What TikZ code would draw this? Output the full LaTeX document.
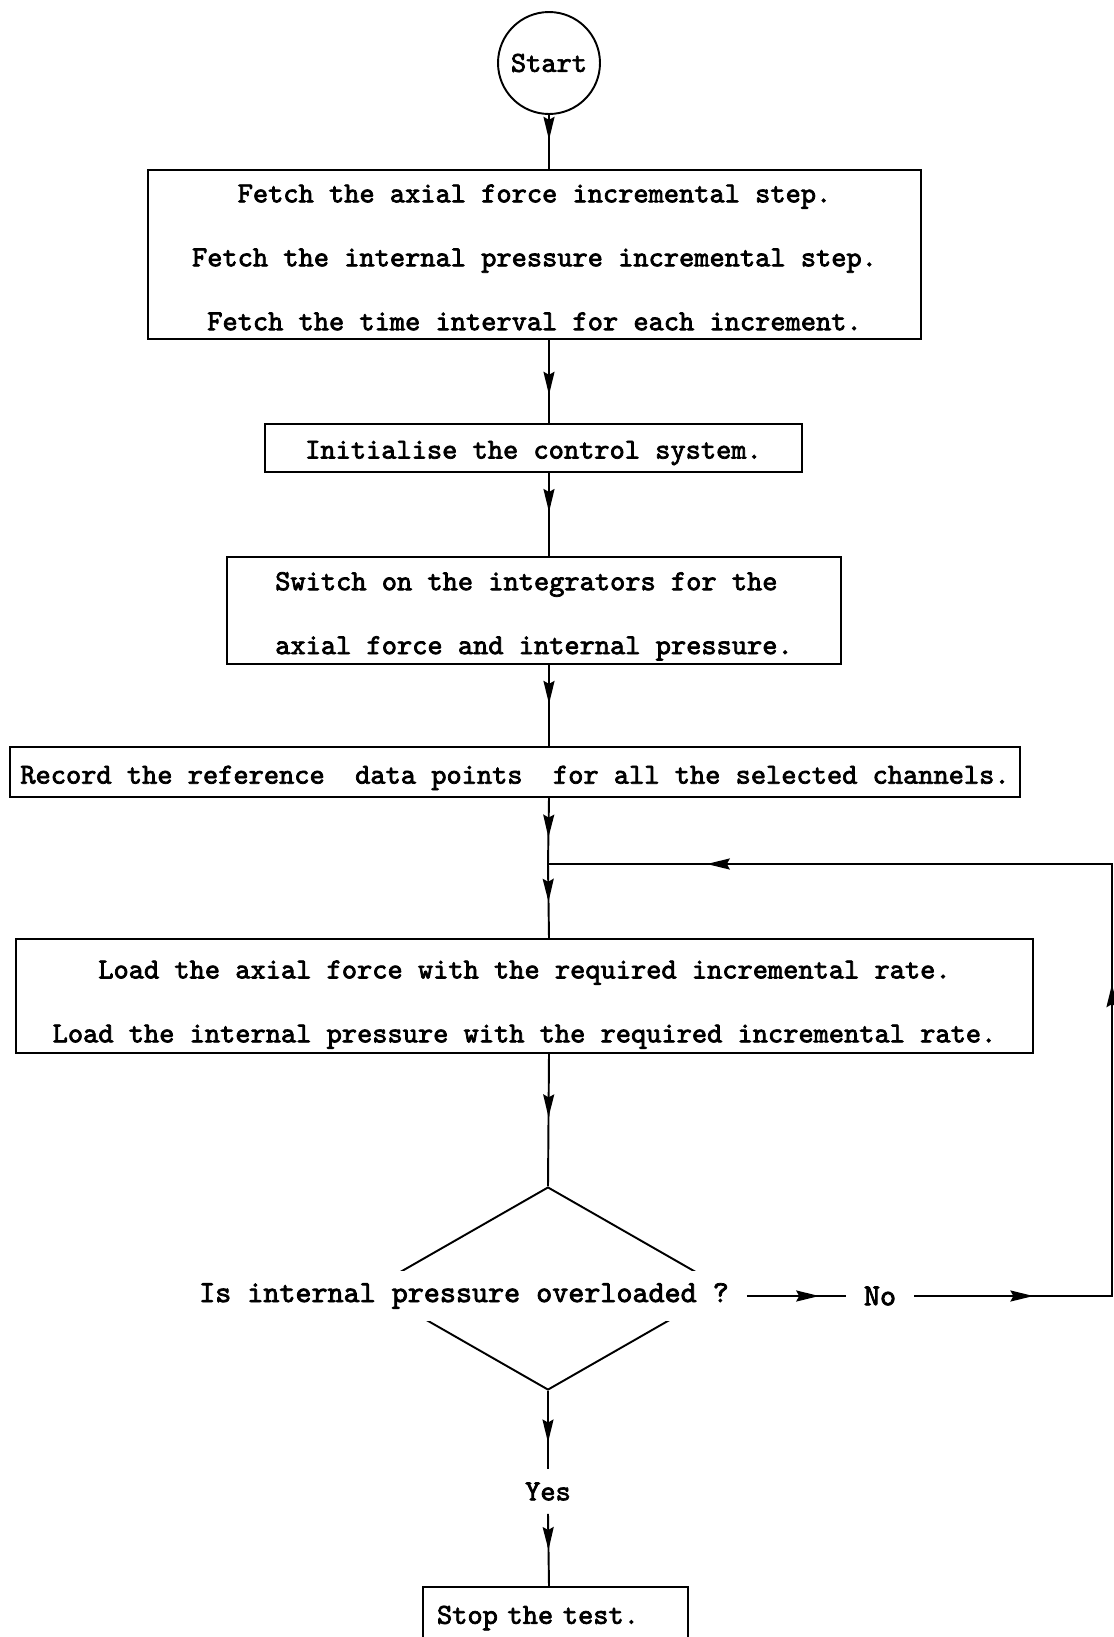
\documentclass[tikz,border=0pt]{standalone}
\usepackage{fontspec}
\usetikzlibrary{arrows.meta,decorations.markings,shapes.geometric}
\newfontfamily\flowfont{lmmono10-regular.otf}[FakeBold=2.5]
% first-line strut, pushes the text a little lower in its box
\newcommand\lowtext[1]{\rule{0pt}{#1}}

\begin{document}
\begin{tikzpicture}[
    x=0.02cm, y=-0.02cm, line width=1.1pt,
    >={Stealth[length=0.46cm, width=0.22cm, inset=0.06cm]},
    flow/.style={postaction={decorate, decoration={markings,
      mark=at position #1 with {\arrow{>}}}}},
    flow/.default=0.5,
    box/.style={draw, inner sep=2pt, align=center,
      font={\flowfont\fontsize{16.5}{36.4}\selectfont}},
    startnode/.style={circle, draw, inner sep=0pt, minimum size=2.04cm,
      font={\flowfont\fontsize{16.5}{20}\selectfont}},
    decision/.style={diamond, draw, inner sep=0pt, minimum width=7.08cm,
      minimum height=4.06cm},
    lab/.style={inner ysep=0pt, inner xsep=0.34cm,
      font={\flowfont\fontsize{17.4}{20}\selectfont}}]
  \useasboundingbox[fill=white] (0,0) rectangle (1113,1637);
  % boxes
  \node[startnode] (start) at (549,63) {Start};
  \node[box, minimum width=15.46cm, minimum height=3.38cm] (fetch) at (534.5,254.5)
    {\lowtext{13.5pt}Fetch the axial force incremental step.\\
     Fetch the internal pressure incremental step.\\
     Fetch the time interval for each increment.};
  \node[box, minimum width=10.74cm, minimum height=0.96cm] (init) at (533.5,448)
    {\lowtext{15.8pt}Initialise the control system.};
  \node[box, align=left, minimum width=12.28cm, minimum height=2.1cm] (integ) at (534,610.5)
    {\lowtext{16.9pt}Switch on the integrators for the\\
     axial force and internal pressure.};
  \node[box, minimum width=20.2cm, minimum height=1cm] (record) at (515,772)
    {\lowtext{16.9pt}Record the reference\ \ data points\ \ for all the selected channels.};
  \coordinate (join) at (548,864);
  \node[box, minimum width=20.34cm, minimum height=2.28cm] (load) at (524.5,996)
    {\lowtext{20pt}Load the axial force with the required incremental rate.\\
     Load the internal pressure with the required incremental rate.};
  % decision
  \node[decision] (check) at (548,1288.5) {};
  \node[lab, fill=white, minimum height=1cm] (ask) at (464,1296)
    {Is internal pressure overloaded ?};
  \node[lab] (no) at (880,1296) {No};
  \coordinate (noend) at (1112,1296);
  \coordinate (back) at (1112,864);
  \node[lab, inner xsep=0pt, minimum height=0.86cm,
    font={\flowfont\fontsize{16.5}{20}\selectfont}] (yes) at (548,1491.5) {Yes};
  \node[box, align=left, text width=4.74cm, inner xsep=0.28cm,
    minimum height=1.24cm] (stop) at (555.5,1618) {Stop the test.};
  % connectors
  \draw[flow=0.46] (start) -- (fetch.north -| start);
  \draw[flow=0.66] (fetch.south -| start) -- (init.north -| start);
  \draw[flow=0.47] (init.south -| start) -- (integ.north -| start);
  \draw[flow=0.48] (integ.south -| start) -- (record.north -| start);
  \draw[flow=0.6] (record.south -| start) -- (join);
  \draw[flow=0.51] (join) -- (load.north -| start);
  \draw[flow=0.48] (load.south -| start) -- (check.north);
  \draw[flow=0.66] (check.south) -- (yes.north);
  \draw[flow=0.5] (yes.south) -- (stop.north -| start);
  \draw[flow=0.73] (ask.east) -- (no.west);
  % loop back
  \draw[flow=0.1, flow=0.427, flow=0.867] (no.east) -- (noend) -- (back) -- (join);
\end{tikzpicture}
\end{document}
